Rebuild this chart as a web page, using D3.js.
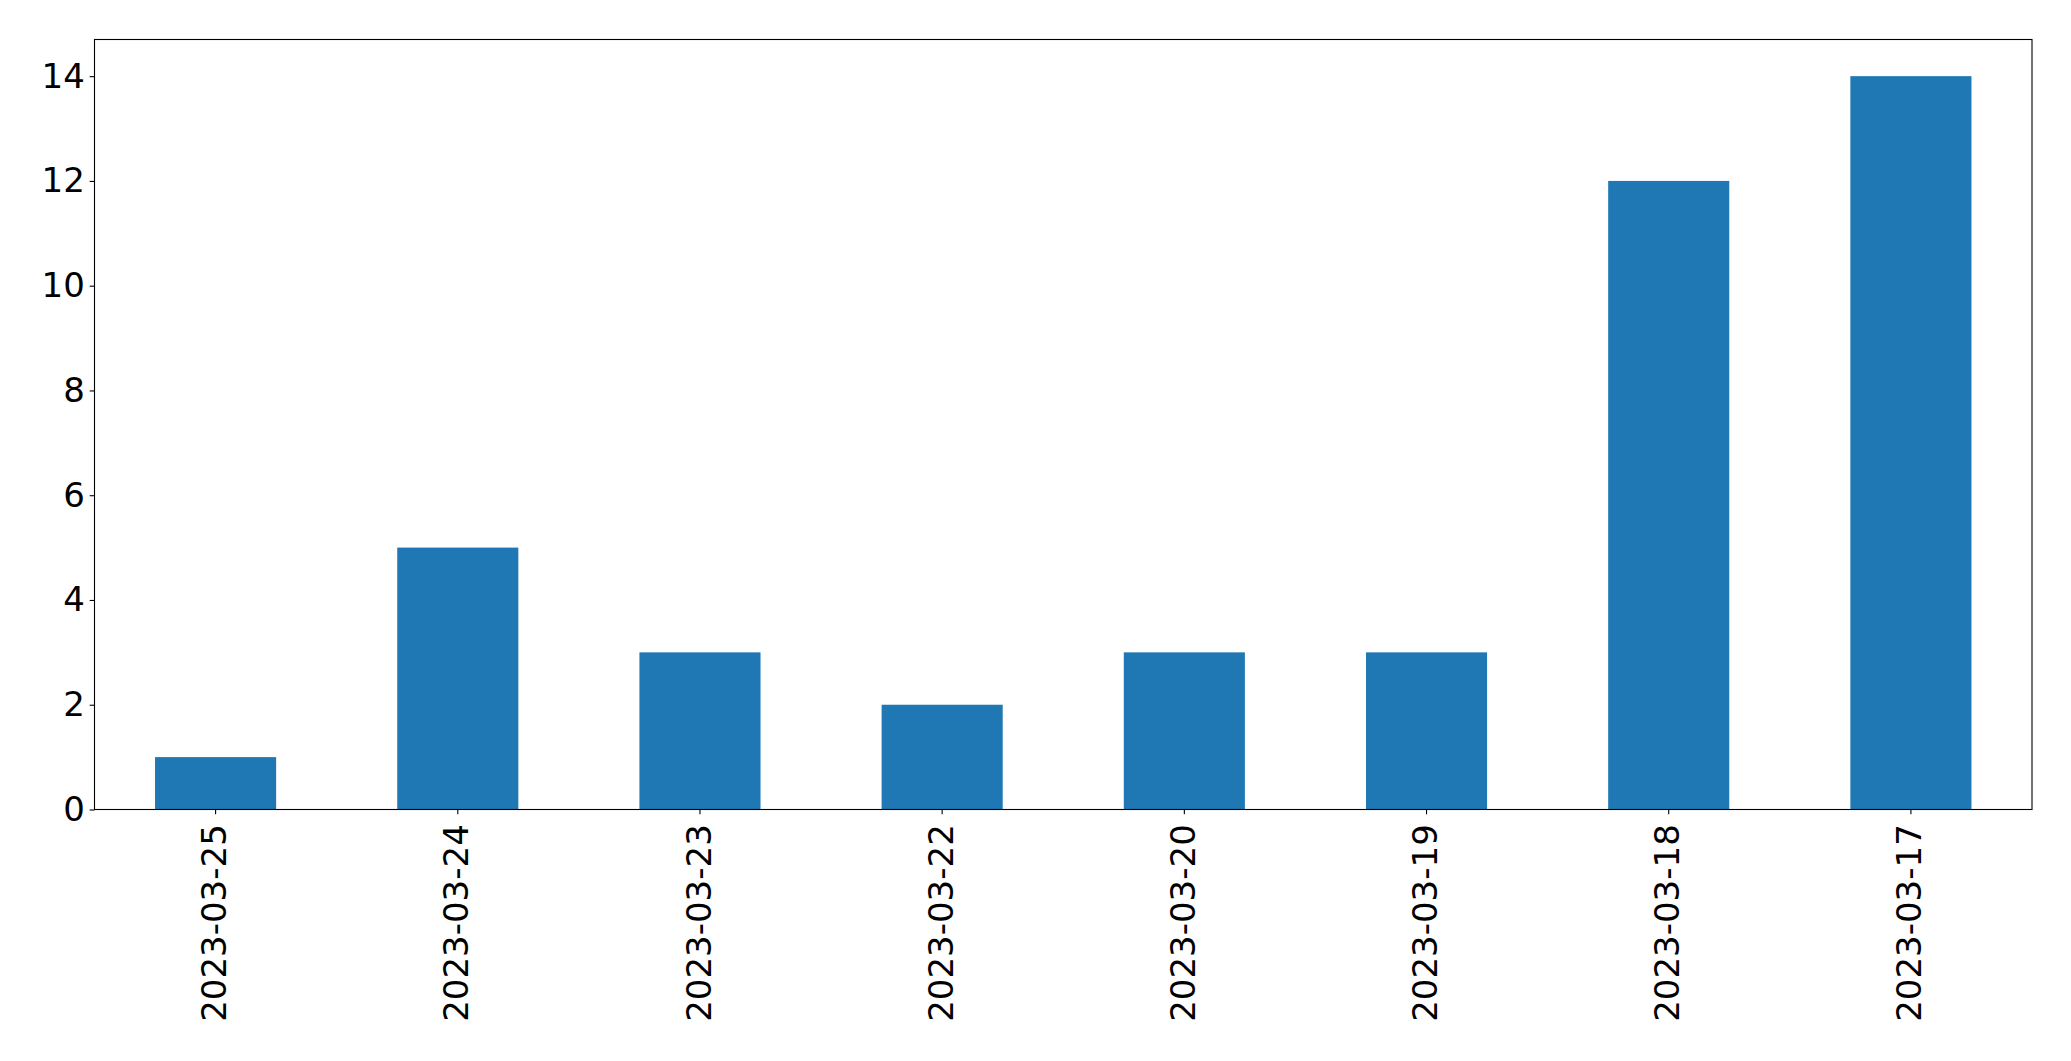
<!DOCTYPE html>
<html>
<head>
<meta charset="utf-8">
<script src="https://cdn.jsdelivr.net/npm/d3@7"></script>
<style>
  html, body { margin: 0; padding: 0; background: #fff; }
  svg { display: block; }
  text { font-family: "DejaVu Sans", sans-serif; }
</style>
</head>
<body>
<svg id="chart" width="2071" height="1061"></svg>
<script>
const categories = ["2023-03-25", "2023-03-24", "2023-03-23", "2023-03-22", "2023-03-20", "2023-03-19", "2023-03-18", "2023-03-17"];
const values = [1, 5, 3, 2, 3, 3, 12, 14];
const yTicks = [0, 2, 4, 6, 8, 10, 12, 14];

const plotLeft = 94.5, plotRight = 2032, plotTop = 39.5, plotBottom = 809.5;
const fontPx = 34;
const tickLen = 4.86, tickPad = 4.86;

const svg = d3.select("#chart");

const x = d3.scaleBand()
  .domain(categories)
  .range([plotLeft, plotRight])
  .paddingInner(0.5)
  .paddingOuter(0.25);

const yMax = d3.max(values) * 1.05;
const y = d3.scaleLinear().domain([0, yMax]).range([plotBottom, plotTop]);

// bars
svg.append("g")
  .selectAll("rect")
  .data(categories)
  .join("rect")
  .attr("x", (d) => x(d))
  .attr("y", (d, i) => y(values[i]))
  .attr("width", x.bandwidth())
  .attr("height", (d, i) => y(0) - y(values[i]))
  .attr("fill", "#1f77b4");

// y axis
const yAxis = svg.append("g")
  .attr("transform", `translate(${plotLeft},0)`)
  .call(d3.axisLeft(y).tickValues(yTicks).tickFormat(d3.format("d")).tickSize(tickLen).tickPadding(tickPad));
yAxis.select(".domain").remove();
yAxis.selectAll(".tick line").attr("stroke", "#000").attr("stroke-width", 1.1);
yAxis.selectAll(".tick text")
  .attr("font-size", fontPx)
  .attr("font-family", "DejaVu Sans, sans-serif")
  .attr("fill", "#000");

// x axis
const xAxis = svg.append("g")
  .attr("transform", `translate(0,${plotBottom})`)
  .call(d3.axisBottom(x).tickSize(tickLen).tickPadding(tickPad));
xAxis.select(".domain").remove();
xAxis.selectAll(".tick line").attr("stroke", "#000").attr("stroke-width", 1.1);
xAxis.selectAll(".tick text")
  .attr("font-size", fontPx)
  .attr("font-family", "DejaVu Sans, sans-serif")
  .attr("fill", "#000")
  .attr("text-anchor", "end")
  .attr("transform", "rotate(-90)")
  .attr("x", -(tickLen + tickPad + 5))
  .attr("y", 0)
  .attr("dy", "0.31em");

// frame
svg.append("rect")
  .attr("x", plotLeft)
  .attr("y", plotTop)
  .attr("width", plotRight - plotLeft)
  .attr("height", plotBottom - plotTop)
  .attr("fill", "none")
  .attr("stroke", "#000")
  .attr("stroke-width", 1.1);
</script>
</body>
</html>
